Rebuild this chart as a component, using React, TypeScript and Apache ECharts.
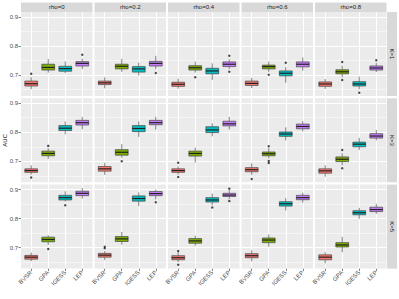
import React, { useEffect, useRef } from "react";
import * as echarts from "echarts";

// ---- categories / facets ----
const METHODS = ["BVSR", "GPA", "IGESS", "LEP"];
const RHOS = ["rho=0", "rho=0.2", "rho=0.4", "rho=0.6", "rho=0.8"];
const KS = ["K=1", "K=3", "K=5"];
const METHOD_COLORS = ["#F8766D", "#7CAE00", "#00BFC4", "#C77CFF"];
const Y_TICKS = [0.7, 0.8, 0.9];
const Y_MINOR = [0.65, 0.75, 0.85];

// ---- five-number summaries [low whisker, Q1, median, Q3, high whisker], one per rho ----
const K1_BVSR = [[0.651, 0.662, 0.670, 0.679, 0.692], [0.654, 0.667, 0.673, 0.679, 0.692], [0.653, 0.661, 0.668, 0.675, 0.687], [0.655, 0.664, 0.671, 0.679, 0.690], [0.652, 0.661, 0.669, 0.676, 0.686]];
const K1_GPA = [[0.708, 0.717, 0.726, 0.737, 0.755], [0.711, 0.721, 0.730, 0.737, 0.755], [0.708, 0.717, 0.725, 0.732, 0.746], [0.711, 0.721, 0.729, 0.734, 0.746], [0.692, 0.704, 0.711, 0.718, 0.732]];
const K1_IGESS = [[0.706, 0.713, 0.722, 0.730, 0.747], [0.698, 0.710, 0.721, 0.729, 0.742], [0.683, 0.704, 0.714, 0.723, 0.740], [0.673, 0.697, 0.706, 0.714, 0.727], [0.651, 0.662, 0.669, 0.677, 0.694]];
const K1_LEP = [[0.720, 0.731, 0.740, 0.746, 0.756], [0.720, 0.731, 0.740, 0.747, 0.766], [0.720, 0.729, 0.737, 0.745, 0.754], [0.715, 0.728, 0.737, 0.745, 0.760], [0.710, 0.717, 0.724, 0.731, 0.742]];

const K3_BVSR = [[0.654, 0.662, 0.668, 0.674, 0.686], [0.653, 0.666, 0.674, 0.682, 0.695], [0.654, 0.662, 0.668, 0.674, 0.682], [0.653, 0.664, 0.671, 0.678, 0.693], [0.647, 0.659, 0.667, 0.674, 0.686]];
const K3_GPA = [[0.708, 0.719, 0.727, 0.735, 0.745], [0.712, 0.721, 0.731, 0.740, 0.759], [0.696, 0.718, 0.727, 0.735, 0.747], [0.710, 0.719, 0.726, 0.732, 0.745], [0.686, 0.699, 0.707, 0.715, 0.728]];
const K3_IGESS = [[0.793, 0.806, 0.814, 0.823, 0.837], [0.784, 0.802, 0.813, 0.823, 0.837], [0.786, 0.799, 0.808, 0.819, 0.831], [0.772, 0.786, 0.794, 0.801, 0.817], [0.739, 0.750, 0.759, 0.766, 0.780]];
const K3_LEP = [[0.810, 0.825, 0.833, 0.841, 0.853], [0.809, 0.826, 0.833, 0.841, 0.853], [0.809, 0.822, 0.829, 0.838, 0.853], [0.803, 0.812, 0.820, 0.828, 0.838], [0.772, 0.780, 0.787, 0.795, 0.808]];

const K5_BVSR = [[0.653, 0.660, 0.667, 0.673, 0.683], [0.657, 0.667, 0.674, 0.680, 0.688], [0.650, 0.658, 0.665, 0.672, 0.684], [0.653, 0.665, 0.672, 0.679, 0.691], [0.646, 0.658, 0.667, 0.675, 0.684]];
const K5_GPA = [[0.709, 0.720, 0.728, 0.736, 0.742], [0.710, 0.721, 0.730, 0.738, 0.754], [0.706, 0.715, 0.723, 0.731, 0.741], [0.703, 0.717, 0.726, 0.733, 0.745], [0.684, 0.702, 0.709, 0.717, 0.737]];
const K5_IGESS = [[0.859, 0.864, 0.872, 0.880, 0.894], [0.843, 0.860, 0.869, 0.878, 0.890], [0.846, 0.857, 0.864, 0.872, 0.886], [0.828, 0.843, 0.851, 0.858, 0.870], [0.799, 0.813, 0.820, 0.827, 0.837]];
const K5_LEP = [[0.869, 0.879, 0.887, 0.894, 0.905], [0.866, 0.879, 0.886, 0.893, 0.900], [0.866, 0.876, 0.881, 0.887, 0.898], [0.855, 0.865, 0.872, 0.880, 0.889], [0.816, 0.824, 0.831, 0.839, 0.851]];

// ---- outliers: [rho index, method index, AUC] ----
const K1_OUTLIERS = [[0, 0, 0.704], [0, 3, 0.770], [1, 3, 0.707], [2, 1, 0.692], [2, 3, 0.766], [2, 3, 0.711], [3, 1, 0.701], [3, 2, 0.742], [4, 1, 0.745], [4, 1, 0.683], [4, 2, 0.639], [4, 3, 0.751]];
const K3_OUTLIERS = [[0, 0, 0.644], [0, 1, 0.753], [1, 1, 0.700], [2, 0, 0.695], [2, 0, 0.646], [3, 0, 0.639], [3, 1, 0.752], [3, 1, 0.701], [3, 1, 0.694], [4, 1, 0.739], [4, 1, 0.676]];
const K5_OUTLIERS = [[0, 1, 0.695], [0, 2, 0.846], [1, 0, 0.703], [1, 0, 0.698], [1, 3, 0.856], [2, 0, 0.688], [2, 0, 0.641], [2, 2, 0.838], [2, 3, 0.903], [2, 3, 0.860]];

const SUMMARIES = [
  [K1_BVSR, K1_GPA, K1_IGESS, K1_LEP],
  [K3_BVSR, K3_GPA, K3_IGESS, K3_LEP],
  [K5_BVSR, K5_GPA, K5_IGESS, K5_LEP],
];
const OUTLIERS = [K1_OUTLIERS, K3_OUTLIERS, K5_OUTLIERS];

const FONT = "'Liberation Sans', Arial, sans-serif";

function buildOption() {
  const left0 = 21, panelW = 71.5, gapX = 2;
  const top0 = 12, panelH = 84, pitchY = 86.3;
  const grids: any[] = [], xAxes: any[] = [], yAxes: any[] = [], series: any[] = [], graphics: any[] = [];

  RHOS.forEach((rho, c) => {
    const x = left0 + c * (panelW + gapX);
    graphics.push({ type: "rect", shape: { x, y: 2.5, width: panelW, height: 9.5 }, style: { fill: "#D9D9D9" }, silent: true });
    graphics.push({ type: "text", x: x + panelW / 2, y: 7.3, style: { text: rho, fill: "#1A1A1A", font: `6px ${FONT}`, align: "center", verticalAlign: "middle" } });
  });
  KS.forEach((k, r) => {
    const y = top0 + r * pitchY;
    graphics.push({ type: "rect", shape: { x: 387, y, width: 10, height: panelH }, style: { fill: "#D9D9D9" }, silent: true });
    graphics.push({ type: "text", x: 392, y: y + panelH / 2, rotation: -Math.PI / 2, style: { text: k, fill: "#1A1A1A", font: `6px ${FONT}`, align: "center", verticalAlign: "middle" } });
  });
  graphics.push({ type: "text", x: 5, y: top0 + (2 * pitchY + panelH) / 2, rotation: Math.PI / 2, style: { text: "AUC", fill: "#000", font: `6px ${FONT}`, align: "center", verticalAlign: "middle" } });

  for (let r = 0; r < 3; r++) {
    for (let c = 0; c < 5; c++) {
      const gi = r * 5 + c;
      const bottom = r === 2, leftCol = c === 0;
      grids.push({ left: left0 + c * (panelW + gapX), top: top0 + r * pitchY, width: panelW, height: panelH, show: true, backgroundColor: "#EBEBEB", borderWidth: 0, containLabel: false });
      xAxes.push({
        type: "value", gridIndex: gi, min: 0.4, max: 4.6,
        axisLine: { show: false },
        axisTick: { show: bottom, customValues: [1, 2, 3, 4], length: 2.5, lineStyle: { color: "#333", width: 0.6 } },
        axisLabel: { show: bottom, customValues: [1, 2, 3, 4], formatter: (v: number) => METHODS[Math.round(v) - 1], rotate: 45, fontSize: 6, color: "#4D4D4D", margin: 3, fontFamily: FONT },
        splitLine: { show: true, lineStyle: { color: "#FFFFFF", width: 1 } },
      });
      yAxes.push({
        type: "value", gridIndex: gi, min: 0.6276, max: 0.917,
        axisLine: { show: false },
        axisTick: { show: leftCol, customValues: Y_TICKS, length: 2.5, lineStyle: { color: "#333", width: 0.6 } },
        axisLabel: { show: leftCol, customValues: Y_TICKS, formatter: (v: number) => v.toFixed(1), fontSize: 6, color: "#4D4D4D", margin: 3, fontFamily: FONT },
        splitLine: { show: true, lineStyle: { color: "#FFFFFF", width: 1 } },
      });
      const boxData = METHODS.map((m, mi) => {
        const s = SUMMARIES[r][mi][c];
        return [mi + 1, s[0], s[1], s[2], s[3], s[4], mi];
      });
      series.push({
        type: "custom", xAxisIndex: gi, yAxisIndex: gi, z: 3,
        encode: { x: 0, y: [1, 2, 3, 4, 5] },
        data: boxData,
        renderItem: (params: any, api: any) => {
          const xv = api.value(0);
          const p = (v: number) => api.coord([xv, v]);
          const lo = p(api.value(1)), q1 = p(api.value(2)), med = p(api.value(3)), q3 = p(api.value(4)), hi = p(api.value(5));
          const w = api.size([1, 0])[0] * 0.75;
          const color = METHOD_COLORS[api.value(6)];
          const ws = { stroke: "#333", lineWidth: 0.6 };
          return {
            type: "group",
            children: [
              { type: "line", shape: { x1: hi[0], y1: hi[1], x2: q3[0], y2: q3[1] }, style: ws },
              { type: "line", shape: { x1: q1[0], y1: q1[1], x2: lo[0], y2: lo[1] }, style: ws },
              { type: "rect", shape: { x: q3[0] - w / 2, y: q3[1], width: w, height: q1[1] - q3[1] }, style: { fill: color, stroke: "#444", lineWidth: 0.7 } },
              { type: "line", shape: { x1: med[0] - w / 2, y1: med[1], x2: med[0] + w / 2, y2: med[1] }, style: { stroke: "#222", lineWidth: 1.2 } },
            ],
          };
        },
        markLine: {
          silent: true, symbol: "none", z: 1, animation: false,
          label: { show: false },
          lineStyle: { color: "#FFFFFF", width: 0.5, type: "solid" },
          data: Y_MINOR.map((v) => ({ yAxis: v })),
        },
      });
      series.push({
        type: "scatter", xAxisIndex: gi, yAxisIndex: gi, z: 4,
        symbol: "circle", symbolSize: 2.4,
        itemStyle: { color: "#1A1A1A" },
        data: OUTLIERS[r].filter((o) => o[0] === c).map((o) => [o[1] + 1, o[2]]),
      });
    }
  }

  return {
    animation: false,
    backgroundColor: "#FFFFFF",
    textStyle: { fontFamily: FONT },
    grid: grids, xAxis: xAxes, yAxis: yAxes, series, graphic: graphics,
  };
}

export default function App() {
  const ref = useRef<HTMLDivElement>(null);
  useEffect(() => {
    if (!ref.current) return;
    const chart = echarts.init(ref.current, null, { renderer: "svg" });
    chart.setOption(buildOption() as any);
    return () => chart.dispose();
  }, []);
  return <div ref={ref} style={{ position: "fixed", left: 0, top: 0, width: 399, height: 299 }} />;
}
